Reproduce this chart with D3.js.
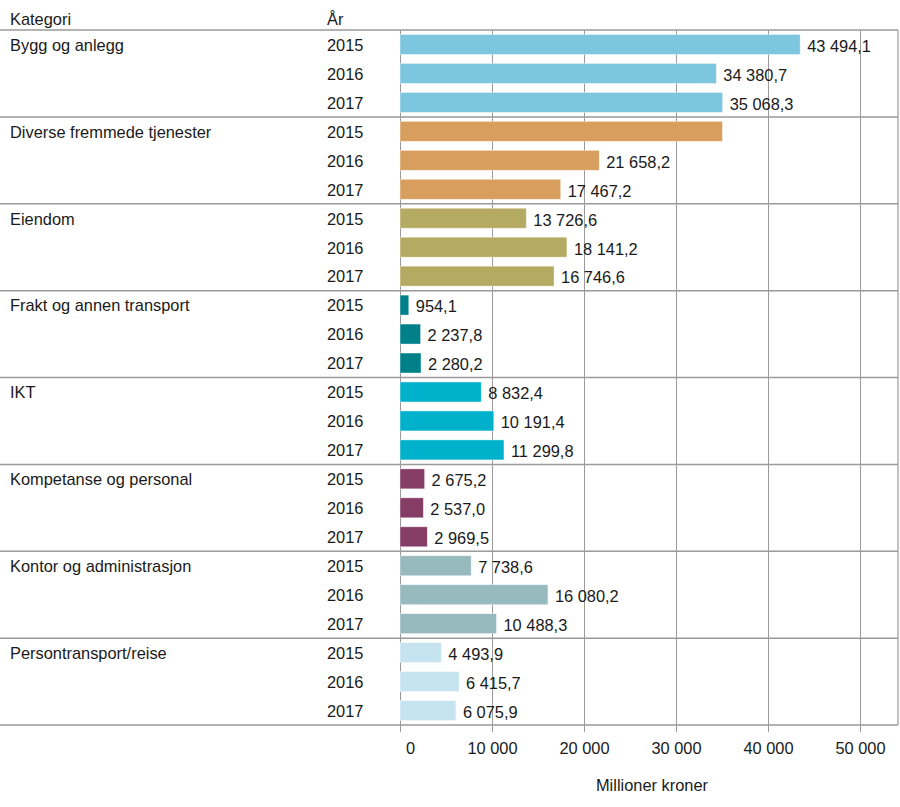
<!DOCTYPE html>
<html>
<head>
<meta charset="utf-8">
<script src="https://cdn.jsdelivr.net/npm/d3@7"></script>
<style>
  html, body { margin: 0; padding: 0; background: #fff; }
  svg { display: block; }
  text { font-family: "Liberation Sans", Arial, sans-serif; fill: #1a1a1a; }
</style>
</head>
<body>
<svg id="chart" width="900" height="807"></svg>
<script>
// ---- data ----
const categories = [
  "Bygg og anlegg",
  "Diverse fremmede tjenester",
  "Eiendom",
  "Frakt og annen transport",
  "IKT",
  "Kompetanse og personal",
  "Kontor og administrasjon",
  "Persontransport/reise"
];
const years = ["2015", "2016", "2017"];
const values2015 = [43494.1, 35050.0, 13726.6, 954.1, 8832.4, 2675.2, 7738.6, 4493.9];
const values2016 = [34380.7, 21658.2, 18141.2, 2237.8, 10191.4, 2537.0, 16080.2, 6415.7];
const values2017 = [35068.3, 17467.2, 16746.6, 2280.2, 11299.8, 2969.5, 10488.3, 6075.9];
const hiddenLabels = ["Diverse fremmede tjenester|2015"]; // no value label shown in the original
const colors = ["#7dc6df", "#d89e5e", "#b5aa62", "#00818a", "#00b1cc", "#853d65", "#97babe", "#c5e4f0"];
const xTicks = [0, 10000, 20000, 30000, 40000, 50000];
const xTitle = "Millioner kroner";
const headCategory = "Kategori";
const headYear = "År";

(function () {
const FS = "16.4px";
// ---- build rows ----
const series = [values2015, values2016, values2017];
const rows = [];
categories.forEach((c, i) => {
  years.forEach((y, j) => {
    rows.push({ cat: c, year: y, value: series[j][i], color: colors[i], ci: i, yi: j, key: c + "|" + y });
  });
});

const locale = d3.formatLocale({ decimal: ",", thousands: "\u00a0", grouping: [3], currency: ["", " kr"] });
const fmtVal = locale.format(",.1f");
const fmtTick = locale.format(",d");

const svg = d3.select("#chart");
const yTop = 30, yBottom = 725, xLeft = 400, rightEdge = 898;

const x = d3.scaleLinear().domain([0, 50000]).range([xLeft, 860]);
const yRow = d3.scaleBand().domain(rows.map(d => d.key)).range([yTop, yBottom]).paddingInner(0.31).paddingOuter(0.155);
const yGroup = d3.scaleBand().domain(categories).range([yTop, yBottom]);

// gridlines with tick marks
const axis = d3.axisBottom(x).tickValues(xTicks).tickFormat(fmtTick).tickSize(yBottom - yTop + 7).tickPadding(10);
const gAxis = svg.append("g").attr("transform", `translate(0,${yTop})`).call(axis);
gAxis.select(".domain").remove();
gAxis.selectAll(".tick line").attr("stroke", "#9a9a9a").attr("stroke-width", 1);
gAxis.selectAll(".tick text")
  .style("font-family", '"Liberation Sans", Arial, sans-serif')
  .style("font-size", FS).attr("fill", "#1a1a1a")
  .attr("dx", d => d === 0 ? 10 : 0);

// right border
svg.append("line").attr("x1", rightEdge).attr("x2", rightEdge).attr("y1", yTop).attr("y2", yBottom)
  .attr("stroke", "#9a9a9a").attr("stroke-width", 1.2);

// group separators
const seps = [yTop].concat(categories.map(c => yGroup(c) + yGroup.bandwidth()));
svg.selectAll("line.sep").data(seps).join("line").attr("class", "sep")
  .attr("x1", 0).attr("x2", rightEdge).attr("y1", d => d).attr("y2", d => d)
  .attr("stroke", "#9a9a9a").attr("stroke-width", 1.5);

// bars
svg.selectAll("rect.bar").data(rows).join("rect").attr("class", "bar")
  .attr("x", x(0)).attr("y", d => yRow(d.key))
  .attr("width", d => x(d.value) - x(0)).attr("height", yRow.bandwidth())
  .attr("fill", d => d.color).attr("stroke", "#ffffff").attr("stroke-opacity", 0.5).attr("stroke-width", 0.8);

// value labels
svg.selectAll("text.val").data(rows.filter(d => !hiddenLabels.includes(d.key))).join("text").attr("class", "val")
  .attr("x", d => x(d.value) + 7).attr("y", d => yRow(d.key) + yRow.bandwidth() / 2 + 3)
  .attr("dominant-baseline", "middle").style("font-size", FS)
  .text(d => fmtVal(d.value));

// year labels
svg.selectAll("text.yr").data(rows).join("text").attr("class", "yr")
  .attr("x", 327).attr("y", d => yRow(d.key) + yRow.bandwidth() / 2 + 2)
  .attr("dominant-baseline", "middle").style("font-size", FS)
  .text(d => d.year);

// category labels
svg.selectAll("text.cat").data(rows.filter(d => d.yi === 0)).join("text").attr("class", "cat")
  .attr("x", 10).attr("y", d => yRow(d.key) + yRow.bandwidth() / 2 + 2)
  .attr("dominant-baseline", "middle").style("font-size", FS)
  .text(d => d.cat);

// headers
svg.append("text").attr("x", 10).attr("y", 25).style("font-size", FS).text(headCategory);
svg.append("text").attr("x", 327).attr("y", 25).style("font-size", FS).text(headYear);

// axis title
svg.append("text").attr("x", 652).attr("y", 791).attr("text-anchor", "middle").style("font-size", FS).text(xTitle);
})();
</script>
</body>
</html>
